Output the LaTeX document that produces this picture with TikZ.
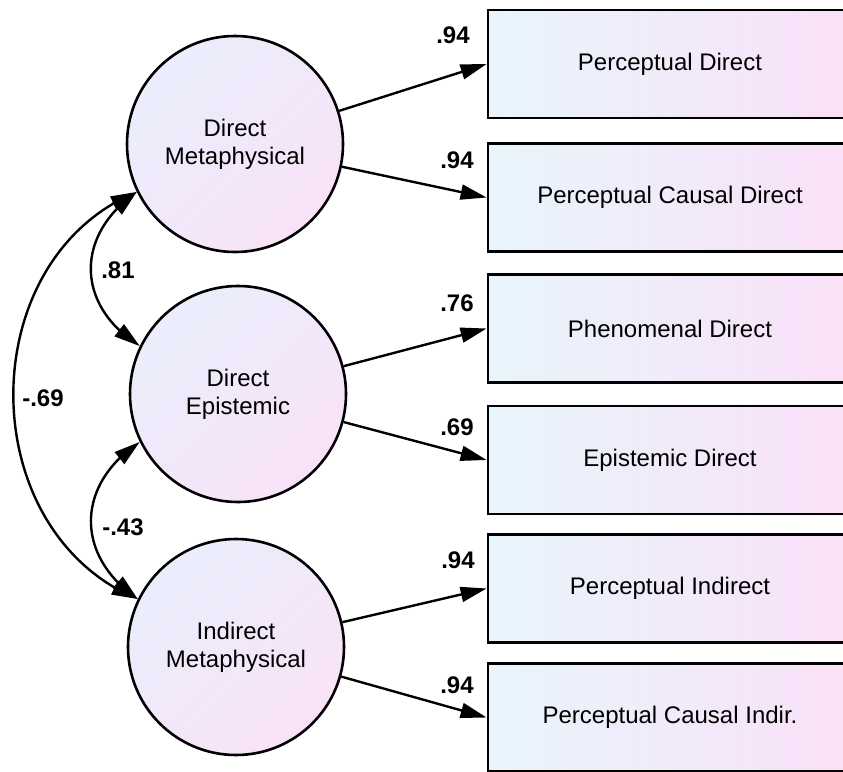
\documentclass[tikz,border=0pt]{standalone}
\usepackage{fontspec}
\setmainfont{Liberation Sans}
\usetikzlibrary{arrows.meta,bending}
\definecolor{boxL}{RGB}{232,245,252}
\definecolor{boxR}{RGB}{250,224,248}
\definecolor{cirA}{RGB}{234,238,252}
\definecolor{cirB}{RGB}{249,226,248}
\begin{document}
\begin{tikzpicture}[x=1pt,y=-1pt,
  latent/.style={circle, draw, line width=2.6pt, minimum size=216pt, inner sep=0pt,
    top color=cirA, bottom color=cirB, shading angle=45, align=center,
    font=\fontsize{24}{28}\selectfont},
  obs/.style={rectangle, draw, line width=2.8pt, minimum width=364pt, minimum height=108pt,
    inner sep=0pt, left color=boxL, right color=boxR, font=\fontsize{24}{28}\selectfont},
  coef/.style={font=\bfseries\fontsize{24}{28}\selectfont, inner sep=0pt},
  pathline/.style={line width=2.4pt, -{Triangle[length=26pt,width=15pt]}},
  covline/.style={line width=2.4pt, {Triangle[length=26pt,width=15pt]}-{Triangle[length=26pt,width=15pt]}}]
\useasboundingbox (0,0) rectangle (843,771);

% latent variables
\node[latent] (c1) at (235,144) {Direct\\Metaphysical};
\node[latent] (c2) at (238,394) {Direct\\Epistemic};
\node[latent] (c3) at (236,647) {Indirect\\Metaphysical};

% observed variables
\node[obs] (b1) at (670,64)    {Perceptual Direct};
\node[obs] (b2) at (670,197.5) {Perceptual Causal Direct};
\node[obs] (b3) at (670,328.5) {Phenomenal Direct};
\node[obs] (b4) at (670,460)   {Epistemic Direct};
\node[obs] (b5) at (670,588.5) {Perceptual Indirect};
\node[obs] (b6) at (670,717.5) {Perceptual Causal Indir.};

% loadings
\draw[pathline] (c1) -- (b1.west);
\draw[pathline] (c1) -- (b2.west);
\draw[pathline] (c2) -- (b3.west);
\draw[pathline] (c2) -- (b4.west);
\draw[pathline] (c3) -- (b5.west);
\draw[pathline] (c3) -- (b6.west);

\node[coef] (l1) at (453,35)  {.94};
\node[coef] (l2) at (457,160) {.94};
\node[coef] (l3) at (457,303) {.76};
\node[coef] (l4) at (457,427) {.69};
\node[coef] (l5) at (458,560) {.94};
\node[coef] (l6) at (457,685) {.94};

% covariances
\draw[covline] (c1.206) .. controls (75,235) and (75,305) .. (c2.154);
\draw[covline] (c2.206) .. controls (75,485) and (75,556) .. (c3.154);
\draw[covline] (c1.206) .. controls (-28,260) and (-28,530) .. (c3.154);

\node[coef] (k1) at (118,270) {.81};
\node[coef] (k2) at (123,527) {-.43};
\node[coef] (k3) at (43,398)  {-.69};
\end{tikzpicture}
\end{document}
